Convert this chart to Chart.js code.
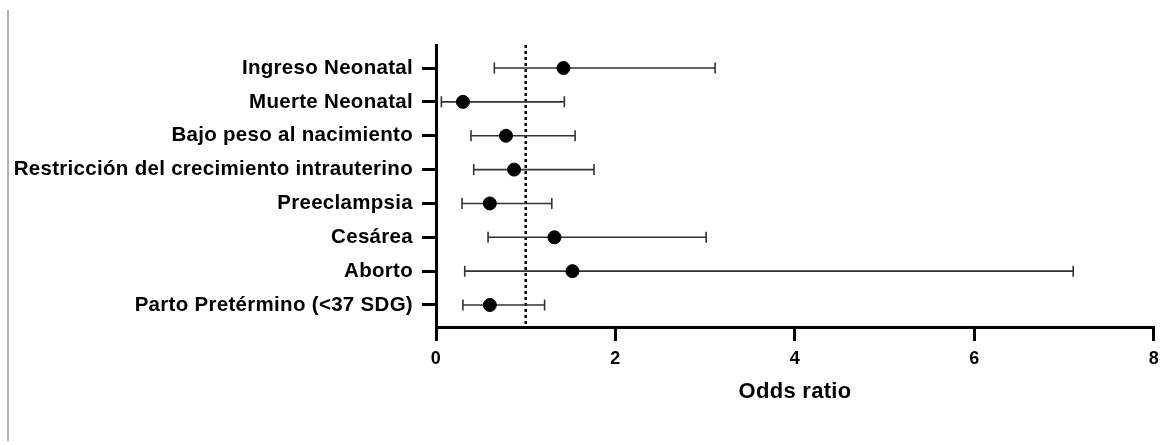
<!DOCTYPE html>
<html>
<head>
<meta charset="utf-8">
<script src="https://cdn.jsdelivr.net/npm/chart.js@4.4.0/dist/chart.umd.min.js"></script>
<style>
  html, body { margin: 0; padding: 0; background: #fff; }
  #wrap { position: relative; width: 1166px; height: 445px; }
  #edge { position: absolute; left: 7px; top: 10px; width: 2px; height: 431px; background: #b4b4b4; }
  canvas { position: absolute; left: 0; top: 0; }
</style>
</head>
<body>
<div id="wrap">
  <div id="edge"></div>
  <canvas id="forestChart" width="1166" height="445"></canvas>
</div>
<script>
// --- datos ---
const categories = [
  'Ingreso Neonatal',
  'Muerte Neonatal',
  'Bajo peso al nacimiento',
  'Restricción del crecimiento intrauterino',
  'Preeclampsia',
  'Cesárea',
  'Aborto',
  'Parto Pretérmino (<37 SDG)'
];
const oddsRatio = [1.42, 0.30, 0.78, 0.87, 0.60, 1.32, 1.52, 0.60];
const ciLow     = [0.65, 0.06, 0.39, 0.42, 0.29, 0.58, 0.32, 0.30];
const ciHigh    = [3.11, 1.43, 1.55, 1.76, 1.29, 3.01, 7.10, 1.21];
const xTicks = [0, 2, 4, 6, 8];
const refValue = 1;

const FONT = "'Liberation Sans', Arial, Helvetica, sans-serif";

// texto apenas más ancho, como en la figura original
const spacingPlugin = {
  id: 'spacing',
  beforeDraw(chart) { chart.ctx.letterSpacing = '0.3px'; }
};

// líneas de intervalo de confianza + línea de referencia punteada
const forestPlugin = {
  id: 'forest',
  beforeDatasetsDraw(chart) {
    const { ctx, chartArea, scales: { x, y } } = chart;
    ctx.save();
    // línea punteada en OR = 1
    const rx = x.getPixelForValue(refValue);
    ctx.strokeStyle = '#000';
    ctx.lineWidth = 2.5;
    ctx.setLineDash([3, 3]);
    ctx.beginPath();
    ctx.moveTo(rx, chartArea.top);
    ctx.lineTo(rx, chartArea.bottom);
    ctx.stroke();
    ctx.setLineDash([]);

    // bigotes
    ctx.strokeStyle = '#333';
    ctx.lineWidth = 1.6;
    const cap = 5.5;
    categories.forEach((_, i) => {
      const py = y.getPixelForValue(i);
      const x0 = x.getPixelForValue(ciLow[i]);
      const x1 = x.getPixelForValue(ciHigh[i]);
      ctx.beginPath();
      ctx.moveTo(x0, py); ctx.lineTo(x1, py);
      ctx.moveTo(x0, py - cap); ctx.lineTo(x0, py + cap);
      ctx.moveTo(x1, py - cap); ctx.lineTo(x1, py + cap);
      ctx.stroke();
    });
    ctx.restore();
  }
};

new Chart(document.getElementById('forestChart'), {
  type: 'scatter',
  data: {
    datasets: [{
      data: oddsRatio.map((v, i) => ({ x: v, y: i })),
      backgroundColor: '#000',
      borderColor: '#000',
      pointRadius: 6.5,
      pointHoverRadius: 6.5
    }]
  },
  options: {
    responsive: false,
    animation: false,
    devicePixelRatio: 1,
    layout: { padding: { top: 45, right: 10, left: 0, bottom: 0 } },
    plugins: { legend: { display: false }, tooltip: { enabled: false } },
    scales: {
      x: {
        type: 'linear',
        min: 0, max: 8,
        afterBuildTicks: axis => { axis.ticks = xTicks.map(v => ({ value: v })); },
        afterFit: scale => { scale.height = 118; },
        border: { color: '#000', width: 3 },
        grid: { drawOnChartArea: false, drawTicks: true, tickLength: 14, color: '#000', lineWidth: 3 },
        ticks: { color: '#000', padding: 7, font: { family: FONT, size: 18, weight: 'bold' } },
        title: {
          display: true, text: 'Odds ratio', color: '#000',
          font: { family: FONT, size: 22, weight: 'bold' },
          padding: { top: 0, bottom: 40 }
        }
      },
      y: {
        type: 'linear',
        reverse: true,
        min: -0.68, max: 7.65,
        afterBuildTicks: axis => { axis.ticks = categories.map((_, i) => ({ value: i })); },
        afterFit: scale => { scale.width = 436; },
        border: { color: '#000', width: 3 },
        grid: { drawOnChartArea: false, drawTicks: true, tickLength: 14, color: '#000', lineWidth: 3 },
        ticks: {
          color: '#000', padding: 9,
          font: { family: FONT, size: 20.5, weight: 'bold' },
          callback: v => categories[v]
        }
      }
    }
  },
  plugins: [spacingPlugin, forestPlugin]
});
</script>
</body>
</html>
